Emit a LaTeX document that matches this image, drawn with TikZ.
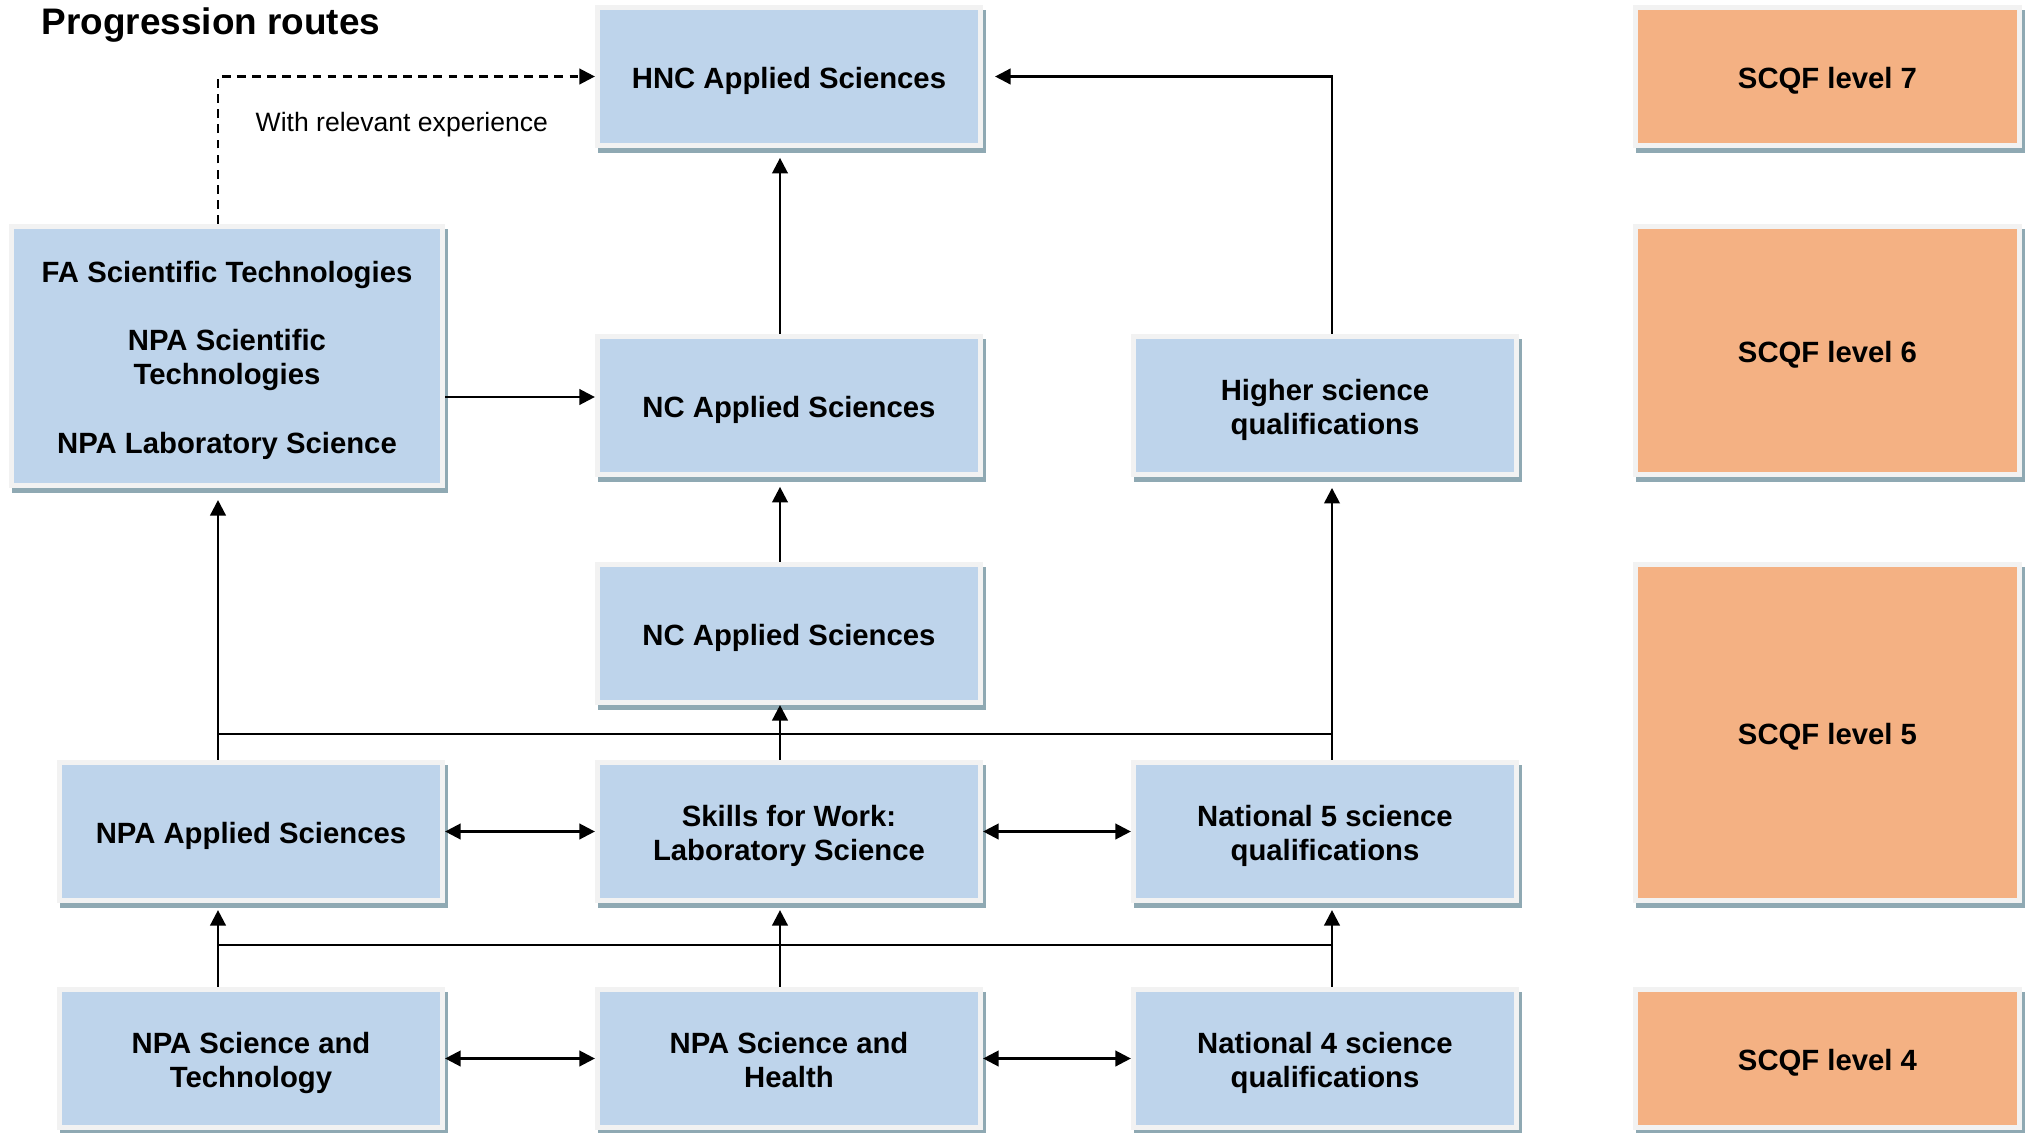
\documentclass[tikz,border=0pt]{standalone}
\usepackage{fontspec}
\setmainfont{Liberation Sans}
\usetikzlibrary{arrows.meta,backgrounds}
\definecolor{boxblue}{RGB}{190,212,235}
\definecolor{lvlorange}{RGB}{244,177,131}
\definecolor{rimgray}{RGB}{242,242,242}
\definecolor{shadowcol}{RGB}{143,169,179}
\newcommand\topst{\rule{0pt}{8.5pt}}
\newcommand\botst{\rule[-1.8pt]{0pt}{0pt}}
\begin{document}
\begin{tikzpicture}[x=0.01cm,y=-0.01cm,
  base/.style={draw=rimgray, line width=1.42pt, inner sep=0pt, align=center,
    font=\fontsize{8.33}{9.75}\selectfont\bfseries},
  prog/.style={base, fill=boxblue, minimum width=3.83cm, minimum height=1.38cm},
  lvl/.style={base, fill=lvlorange, minimum width=3.84cm},
  conn/.style={line width=0.7pt, -{Triangle[length=4.4pt,width=4.4pt]}},
  biconn/.style={line width=0.7pt, {Triangle[length=4.4pt,width=4.4pt]}-{Triangle[length=4.4pt,width=4.4pt]}},
  bus/.style={line width=0.7pt},
  ]
\useasboundingbox (0,0) rectangle (2026,1133);

\node[anchor=base west, inner sep=0pt, font=\fontsize{10.5}{12}\selectfont\bfseries] (title) at (41,34.5) {Progression routes};

\node[prog] (hnc) at (789,76.5) {\topst HNC Applied Sciences\botst};
\node[lvl, minimum height=1.38cm] (l7) at (1827.5,76.5) {\topst SCQF level 7\botst};
\node[prog, minimum width=4.31cm, minimum height=2.59cm] (fa) at (227,356)
  {\topst FA Scientific Technologies\\[9.75pt]NPA Scientific\\Technologies\\[9.75pt]NPA Laboratory Science\botst};
\node[prog] (ncup) at (789,405.5) {\topst NC Applied Sciences\botst};
\node[prog] (higher) at (1325,405.5) {\topst Higher science\\qualifications\botst};
\node[lvl, minimum height=2.48cm] (l6) at (1827.5,350.5) {\topst SCQF level 6\botst};
\node[prog] (nclow) at (789,633.5) {\topst NC Applied Sciences\botst};
\node[lvl, minimum height=3.36cm] (l5) at (1827.5,732.5) {\topst SCQF level 5\botst};
\node[prog] (npaapp) at (251,831.5) {\topst NPA Applied Sciences\botst};
\node[prog] (skills) at (789,831.5) {\topst Skills for Work:\\Laboratory Science\botst};
\node[prog] (nat5) at (1325,831.5) {\topst National 5 science\\qualifications\botst};
\node[prog] (npatech) at (251,1058.5) {\topst NPA Science and\\Technology\botst};
\node[prog] (npahealth) at (789,1058.5) {\topst NPA Science and\\Health\botst};
\node[prog] (nat4) at (1325,1058.5) {\topst National 4 science\\qualifications\botst};
\node[lvl, minimum height=1.38cm] (l4) at (1827.5,1058.5) {\topst SCQF level 4\botst};

\begin{scope}[on background layer]
\foreach \n in {hnc,l7,fa,ncup,higher,l6,nclow,l5,npaapp,skills,nat5,npatech,npahealth,nat4,l4}
  \fill[shadowcol] ([shift={(3,5)}]\n.south west) rectangle ([shift={(3,5)}]\n.north east);
\end{scope}

\coordinate (xa) at (218,0);
\coordinate (xb) at (780,0);
\coordinate (xc) at (1332,0);
\coordinate (yfa) at (0,397);
\coordinate (bus5) at (0,734);
\coordinate (bus4) at (0,945);

\draw[conn, dashed, dash pattern=on 2.5pt off 1.8pt] (fa.north -| xa) |- (hnc.west);
\node[anchor=base west, inner sep=0pt, font=\fontsize{7.55}{9}\selectfont] (lbl) at (255,131.5) {With relevant experience};

\draw[conn, shorten >=3.4pt] (higher.north -| xc) |- (hnc.east);
\draw[conn, shorten >=2.8pt] (ncup.north -| xb) -- (hnc.south -| xb);
\draw[conn] (fa.east |- yfa) -- (ncup.west |- yfa);
\draw[conn, shorten >=2.8pt] (nclow.north -| xb) -- (ncup.south -| xb);
\draw[conn] (skills.north -| xb) -- (nclow.south -| xb);
\draw[conn, shorten >=3.4pt] (npaapp.north -| xa) -- (fa.south -| xa);
\draw[conn, shorten >=3.1pt] (nat5.north -| xc) -- (higher.south -| xc);
\draw[bus] (bus5 -| xa) -- (bus5 -| xc);

\draw[biconn] (npaapp.east) -- (skills.west);
\draw[biconn] (skills.east) -- (nat5.west);
\draw[biconn] (npatech.east) -- (npahealth.west);
\draw[biconn] (npahealth.east) -- (nat4.west);

\draw[conn, shorten >=2pt] (npatech.north -| xa) -- (npaapp.south -| xa);
\draw[conn, shorten >=2pt] (npahealth.north -| xb) -- (skills.south -| xb);
\draw[conn, shorten >=2pt] (nat4.north -| xc) -- (nat5.south -| xc);
\draw[bus] (bus4 -| xa) -- (bus4 -| xc);
\end{tikzpicture}
\end{document}
